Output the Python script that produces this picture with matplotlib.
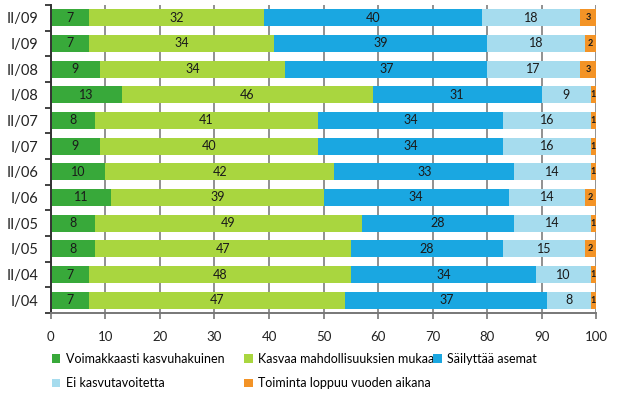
import numpy as np
import matplotlib
matplotlib.use('Agg')
import matplotlib.pyplot as plt
from matplotlib.patches import Patch

plt.rcParams['font.family'] = ['Lato', 'DejaVu Sans']

# periods, top to bottom
periods = ['II/09', 'I/09', 'II/08', 'I/08', 'II/07', 'I/07',
           'II/06', 'I/06', 'II/05', 'I/05', 'II/04', 'I/04']

voimakkaasti = [7, 7, 9, 13, 8, 9, 10, 11, 8, 8, 7, 7]
kasvaa = [32, 34, 34, 46, 41, 40, 42, 39, 49, 47, 48, 47]
sailyttaa = [40, 39, 37, 31, 34, 34, 33, 34, 28, 28, 34, 37]
ei_kasvu = [18, 18, 17, 9, 16, 16, 14, 14, 14, 15, 10, 8]
loppuu = [3, 2, 3, 1, 1, 1, 1, 2, 1, 2, 1, 1]

series = [voimakkaasti, kasvaa, sailyttaa, ei_kasvu, loppuu]
names = ['Voimakkaasti kasvuhakuinen', 'Kasvaa mahdollisuuksien mukaan',
         'Säilyttää asemat', 'Ei kasvutavoitetta', 'Toiminta loppuu vuoden aikana']
colors = ['#38a93a', '#a9d63f', '#1aa7e1', '#a6dcee', '#f39326']

fig = plt.figure(figsize=(6.21, 4.05), dpi=100)
ax = fig.add_axes([0.082, 0.227, 0.878, 0.761])

y = np.arange(len(periods))[::-1]
left = np.zeros(len(periods))
for vals, col in zip(series, colors):
    vals = np.array(vals)
    ax.barh(y, vals, left=left, height=0.66, color=col, zorder=2)
    small = vals.max() <= 3
    for yi, l, v in zip(y, left, vals):
        ax.text(l + v / 2, yi, str(v), ha='center', va='center',
                fontsize=6.5 if small else 9,
                fontweight='bold' if small else 'normal',
                color='#1a1a1a', zorder=3)
    left += vals

ax.set_xlim(0, 100)
ax.set_ylim(-0.5, len(periods) - 0.5)
ax.set_xticks(np.arange(0, 101, 10))
ax.tick_params(axis='x', length=4, width=1.2, color='#777777', pad=9,
               labelsize=9.5, labelcolor='#222222')
ax.xaxis.grid(True, color='#888888', linewidth=1.3, zorder=0)
ax.set_axisbelow(True)

ax.set_yticks(y)
ax.set_yticklabels(periods, fontsize=10.5, color='#222222')
ax.set_yticks(np.arange(-0.5, len(periods), 1), minor=True)
ax.tick_params(axis='y', which='major', length=0, pad=9)
ax.tick_params(axis='y', which='minor', length=4, width=1.3, color='#333333')

for s in ['top', 'right']:
    ax.spines[s].set_visible(False)
ax.spines['left'].set_color('#333333')
ax.spines['left'].set_linewidth(1.4)
ax.spines['bottom'].set_color('#777777')
ax.spines['bottom'].set_linewidth(1.4)

# legend: three columns placed by hand, filled row-wise
cols = [[0, 3], [1, 4], [2]]
xpos = [0.083, 0.393, 0.697]
for idx, xp in zip(cols, xpos):
    handles = [Patch(facecolor=colors[i], edgecolor='none') for i in idx]
    fig.legend(handles, [names[i] for i in idx], loc='upper left',
               bbox_to_anchor=(xp, 0.129), frameon=False, fontsize=9,
               handlelength=0.7, handleheight=0.7, handletextpad=0.45,
               labelspacing=1.0, borderaxespad=0, borderpad=0)

fig.savefig('out.png', dpi=100)
